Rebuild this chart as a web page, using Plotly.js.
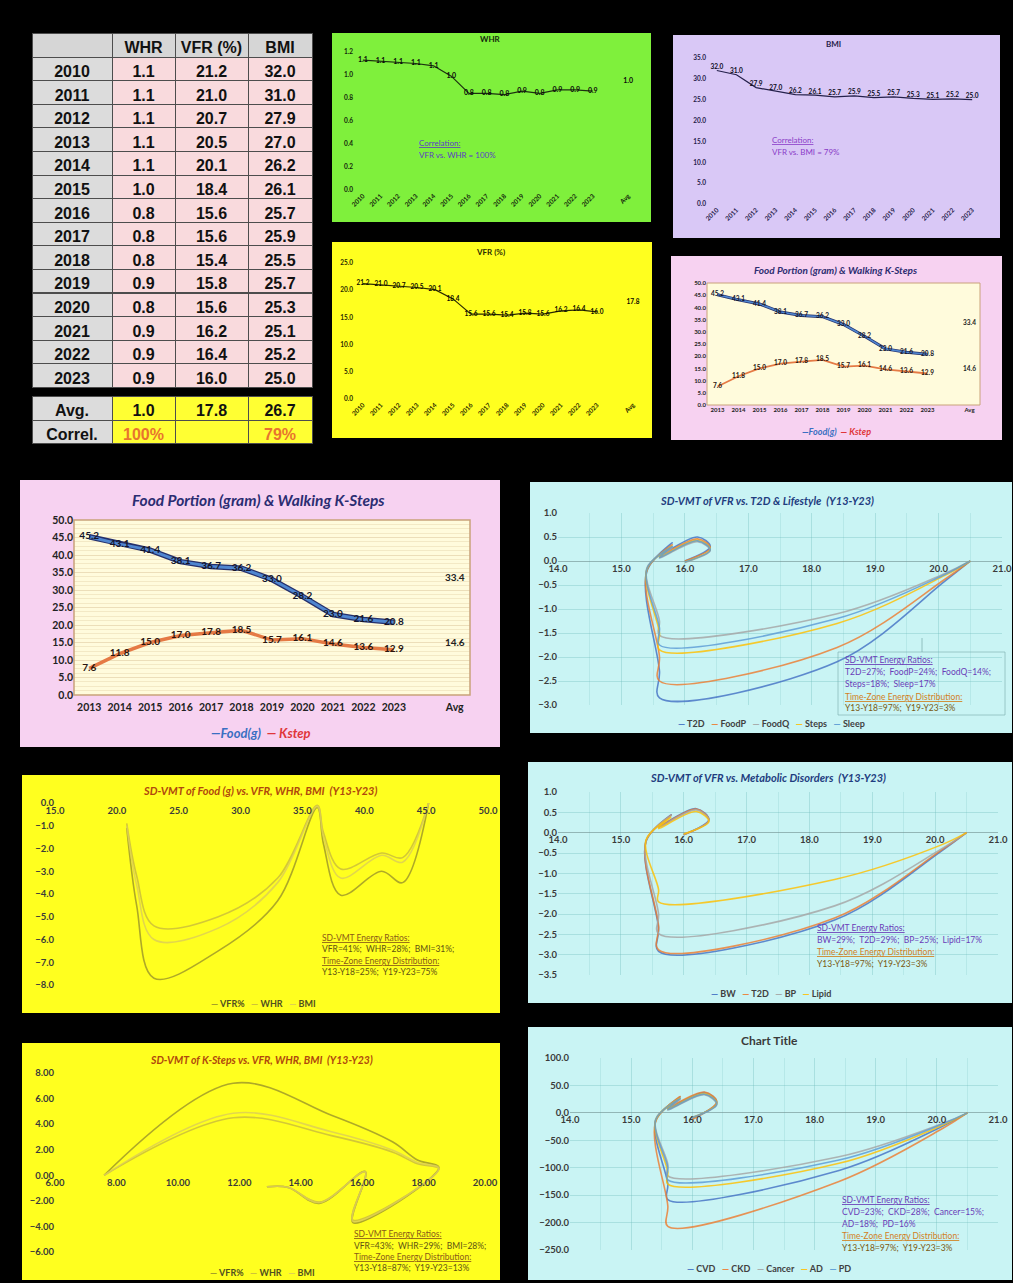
<!DOCTYPE html>
<html>
<head>
<meta charset="utf-8">
<script src="https://cdn.plot.ly/plotly-3.0.1.min.js"></script>
<style>
html,body{margin:0;padding:0;background:#000;overflow:hidden;}
#chart{width:1013px;height:1283px;}
</style>
</head>
<body>
<div id="chart"></div>
<script>
// ================= DATA =================
const years = ['2010','2011','2012','2013','2014','2015','2016','2017','2018','2019','2020','2021','2022','2023'];
const whrTable = [1.1,1.1,1.1,1.1,1.1,1.0,0.8,0.8,0.8,0.9,0.8,0.9,0.9,0.9];
const vfrTable = [21.2,21.0,20.7,20.5,20.1,18.4,15.6,15.6,15.4,15.8,15.6,16.2,16.4,16.0];
const bmiTable = [32.0,31.0,27.9,27.0,26.2,26.1,25.7,25.9,25.5,25.7,25.3,25.1,25.2,25.0];
const tableHeader = ['', 'WHR', 'VFR\u00a0(%)', 'BMI'];
const avgRow = ['Avg.', '1.0', '17.8', '26.7'];
const correlRow = ['Correl.', '100%', '', '79%'];

// WHR as plotted
const whrChart = [1.13,1.12,1.11,1.10,1.08,0.99,0.84,0.84,0.83,0.86,0.84,0.87,0.87,0.86];
const whrAvg = 0.95;
const vfrAvg = 17.8;

const foodYears = ['2013','2014','2015','2016','2017','2018','2019','2020','2021','2022','2023'];
const foodG  = [45.2,43.1,41.4,38.1,36.7,36.2,33.0,28.2,23.0,21.6,20.8];
const kSteps = [7.6,11.8,15.0,17.0,17.8,18.5,15.7,16.1,14.6,13.6,12.9];
const foodAvg = 33.4;
const kStepAvg = 14.6;

// SD-VMT x values (Y13..Y23)
const vfrY13 = [20.5,20.1,18.4,15.6,15.6,15.4,15.8,15.6,16.2,16.4,16.0];

// SD-VMT of VFR vs. T2D & Lifestyle
const t2dNames = ['T2D','FoodP','FoodQ','Steps','Sleep'];
const t2d_T2D   = [0,-0.42,-2.10,-2.85,-2.30,-0.22,0.38,0.12,0.50,0.30,0.00];
const t2d_FoodP = [0,-0.38,-1.80,-2.50,-2.00,-0.20,0.34,0.10,0.46,0.27,0.00];
const t2d_FoodQ = [0,-0.26,-1.10,-1.55,-1.25,-0.15,0.28,0.06,0.40,0.22,-0.03];
const t2d_Steps = [0,-0.30,-1.30,-1.85,-1.50,-0.18,0.31,0.08,0.43,0.24,-0.02];
const t2d_Sleep = [0,-0.28,-1.20,-1.75,-1.40,-0.17,0.30,0.07,0.42,0.23,-0.02];

// SD-VMT of Food (g) vs. VFR, WHR, BMI
const fdNames = ['VFR%','WHR','BMI'];
const fd_VFR = [0,-3.5,-3.0,-4.05,-1.8,-0.2,-4.3,-6.5,-7.7,-4.5,-1.1];
const fd_WHR = [0,-2.4,-2.2,-2.9,-1.3,-0.1,-3.3,-5.0,-5.4,-3.2,-0.9];
const fd_BMI = [0,-2.6,-2.3,-3.3,-1.5,-0.15,-3.5,-5.5,-6.0,-3.6,-1.0];

// SD-VMT of VFR vs. Metabolic Disorders
const mdNames = ['BW','T2D','BP','Lipid'];
const md_BW    = [0,-0.45,-2.15,-2.92,-2.35,-0.22,0.44,0.15,0.59,0.32,-0.05];
const md_T2D   = [0,-0.43,-2.10,-2.88,-2.30,-0.21,0.43,0.14,0.58,0.31,-0.05];
const md_BP    = [0,-0.40,-1.80,-2.48,-2.00,-0.20,0.42,0.13,0.56,0.30,-0.04];
const md_Lipid = [0,-0.30,-1.15,-1.70,-1.40,-0.18,0.38,0.10,0.52,0.27,-0.03];

// SD-VMT of K-Steps vs. VFR, WHR, BMI
const ksNames = ['VFR%','WHR','BMI'];
const ks_VFR = [0,7.2,4.7,2.6,1.2,0.6,-3.7,0.3,-2.2,-0.95,-0.9];
const ks_WHR = [0,4.5,3.1,1.8,0.9,0.5,-3.5,0.25,-2.1,-0.95,-0.9];
const ks_BMI = [0,4.85,3.4,1.95,1.0,0.55,-3.6,0.28,-2.15,-0.95,-0.9];

// Chart Title (CVD, CKD, Cancer, AD, PD)
const ctNames = ['CVD','CKD','Cancer','AD','PD'];
const ct_CVD    = [0,-24,-105,-158,-130,-15,29,8,37,19,-10];
const ct_CKD    = [0,-28,-125,-207,-170,-16,30,10,38,20,-12];
const ct_Cancer = [0,-19,-80,-115,-94,-12,25,5,33,15,-8];
const ct_AD     = [0,-22,-92,-130,-108,-14,27,7,35,17,-9];
const ct_PD     = [0,-20,-86,-122,-100,-13,26,6,34,16,-9];

// ================= STYLE / LAYOUT =================
const F = 'Lato, "Noto Sans", sans-serif';
const TF = '"Liberation Sans", Arial, sans-serif';
const W = 1013, H = 1283;
const px = v => v / W;
const py = v => 1 - v / H;
const f1 = v => v.toFixed(1);
const tf = (s, c) => ({family: F, size: s, color: c || '#222', weight: 'bold'});

const excel = ['#4472c4','#ed7d31','#a5a5a5','#ffc000','#5b9bd5'];
const olive = ['#9c962a','#c9bc3c','#dccd58'];

const shapes = [];
function rect(x0, y0, x1, y1, fill, line) {
  shapes.push({type:'rect', xref:'paper', yref:'paper', x0:px(x0), x1:px(x1), y0:py(y1), y1:py(y0),
    fillcolor:fill, line: line || {width:0}, layer:'below'});
}
// panels
rect(332,33,651,222,'#7ff03c');
rect(673,35,1000,238,'#d9c8f6');
rect(332,242,652,438,'#ffff1f');
rect(671,256,1002,440,'#f7d2f1');
rect(20,480,500,747,'#f7d2f1');
rect(530,482,1012,733,'#c9f4f4');
rect(22,775,500,1013,'#ffff1f');
rect(528,762,1012,1003,'#c9f4f4');
rect(22,1043,500,1280,'#ffff1f');
rect(528,1027,1012,1280,'#c9f4f4');
// food plot areas
rect(707,283,980,405,'#fffbdc',{color:'#c9a27a',width:1});
rect(74,520,470,695,'#fffbdc',{color:'#c9a27a',width:1.5});
// energy box in T2D chart
rect(838,652,1005,715,'rgba(0,0,0,0)',{color:'rgba(120,170,170,0.6)',width:1});
shapes.push({type:'line',xref:'paper',yref:'paper',x0:px(922),x1:px(922),y0:py(652),y1:py(638),line:{color:'rgba(120,170,170,0.7)',width:1},layer:'below'});

const layout = {
  width: W, height: H, margin: {l:0, r:0, t:0, b:0},
  paper_bgcolor: '#000', plot_bgcolor: 'rgba(0,0,0,0)',
  showlegend: false, shapes: shapes, annotations: [],
  font: {family: F}
};
const axBase = {showgrid:false, zeroline:false, showline:false, ticks:'', fixedrange:true, automargin:false};
function axisPair(n, x0, x1, y0, y1, xo, yo) {
  const s = n === 1 ? '' : String(n);
  layout['xaxis' + s] = Object.assign({domain:[px(x0), px(x1)], anchor:'y' + s}, axBase, xo);
  layout['yaxis' + s] = Object.assign({domain:[py(y1), py(y0)], anchor:'x' + s}, axBase, yo);
}
function zeroPos(y0, y1, r) {
  const lo = py(y1), hi = py(y0);
  return lo + (0 - r[0]) / (r[1] - r[0]) * (hi - lo);
}
const catAx = (arr, rng, ang, font) => ({type:'category', categoryorder:'array', categoryarray:arr, range:rng, tickangle:ang, tickfont:font});

// mini charts
axisPair(1, 354, 637, 52, 190, catAx([...years,' ','Avg'], [-0.5,15.5], -45, tf(6.5,'#14260c')),
  {range:[0,1.2], dtick:0.2, tickformat:'.1f', tickfont:tf(6.5,'#14260c')});
axisPair(2, 707, 982, 58, 204, catAx(years, [-0.5,13.5], -45, tf(6.5,'#26204a')),
  {range:[0,35], dtick:5, tickformat:'.1f', tickfont:tf(6.5,'#26204a')});
axisPair(3, 354, 642, 263, 399, catAx([...years,' ','Avg'], [-0.5,15.5], -45, tf(6.5,'#2a2a00')),
  {range:[0,25], dtick:5, tickformat:'.1f', tickfont:tf(6.5,'#2a2a00')});
axisPair(4, 707, 980, 283, 405, catAx([...foodYears,' ','Avg'], [-0.5,12.5], 0, tf(6,'#222')),
  {range:[0,50], dtick:5, tickformat:'.1f', tickfont:tf(6,'#222')});
axisPair(5, 74, 470, 520, 695, Object.assign(catAx([...foodYears,' ','Avg'], [-0.5,12.5], 0, tf(10.5,'#222')), {ticklabelstandoff:4}),
  {range:[0,50], dtick:5, tickformat:'.1f', tickfont:tf(10.5,'#222'), showgrid:true, gridcolor:'rgba(200,170,120,0.35)',
   minor:{dtick:1.25, showgrid:true, gridcolor:'rgba(200,170,120,0.22)'}});

// SD-VMT charts
const cyanGrid = {showgrid:true, gridcolor:'rgba(110,185,185,0.35)'};
function sdAxes(n, x0, x1, y0, y1, xr, yr, xd, yd, xf, yf, fs, grid) {
  const xo = Object.assign({range:xr, dtick:xd, tickformat:xf, tickfont:tf(fs,'#3a3a3a'), anchor:'free', position:zeroPos(y0,y1,yr)}, grid ? cyanGrid : {});
  const yo = Object.assign({range:yr, dtick:yd, tickformat:yf, tickfont:tf(fs,'#3a3a3a'), zeroline:grid, zerolinecolor:'rgba(110,140,140,0.6)', zerolinewidth:1}, grid ? cyanGrid : {});
  if (grid) xo.minor = {dtick:xd/2, showgrid:true, gridcolor:'rgba(110,185,185,0.2)'};
  axisPair(n, x0, x1, y0, y1, xo, yo);
}
sdAxes(6, 558, 1002, 513, 705, [14,21], [-3,1], 1, 0.5, '.1f', '.1f', 9.5, true);
sdAxes(7, 55, 488, 803, 985, [15,50], [-8,0], 5, 1, '.1f', '.1f', 9.5, false);
sdAxes(8, 558, 998, 792, 975, [14,21], [-3.5,1], 1, 0.5, '.1f', '.1f', 9.5, true);
sdAxes(9, 55, 485, 1073, 1252, [6,20], [-6,8], 2, 2, '.2f', '.2f', 9.5, false);
sdAxes(10, 570, 998, 1058, 1250, [14,21], [-250,100], 1, 50, '.1f', '.1f', 9.5, true);

// ================= TRACES =================
const traces = [];

// tables
const colW = [80,63,73,64];
const tFont = c => ({family:TF, size:16, color:c || '#111', weight:'bold'});
traces.push({
  type:'table', domain:{x:[px(32),px(312)], y:[py(394),py(33)]}, columnwidth:colW,
  header:{values:tableHeader, height:24, align:'center', fill:{color:'#d6d6d6'},
          line:{color:'#4d4d4d',width:1}, font:tFont()},
  cells:{values:[years, whrTable.map(f1), vfrTable.map(f1), bmiTable.map(f1)],
         height:23.6, align:'center', fill:{color:['#dcdcdc','#f9dadd','#f9dadd','#f9dadd']},
         line:{color:'#4d4d4d',width:1}, font:tFont()}
});
traces.push({
  type:'table', domain:{x:[px(32),px(312)], y:[py(446),py(396)]}, columnwidth:colW,
  header:{values:avgRow, height:24, align:'center', fill:{color:['#dcdcdc','#ffff33','#ffff33','#ffff33']},
          line:{color:'#4d4d4d',width:1}, font:tFont()},
  cells:{values:correlRow.map(v=>[v]), height:23, align:'center', fill:{color:['#dcdcdc','#ffff33','#ffff33','#ffff33']},
         line:{color:'#4d4d4d',width:1}, font:{family:TF,size:16,weight:'bold',color:['#111','#e8742e','#111','#e8742e']}}
});

// mini WHR
traces.push({type:'scatter', xaxis:'x', yaxis:'y', x:years, y:whrChart, mode:'lines+text',
  line:{color:'#1c3010',width:1.2}, text:whrTable.map(f1), textposition:'middle center',
  textfont:tf(7,'#0a0a0a'), cliponaxis:false});
traces.push({type:'scatter', xaxis:'x', yaxis:'y', x:[' ','Avg'], y:[null,whrAvg], mode:'text',
  text:['',avgRow[1]], textposition:'middle center', textfont:tf(7,'#0a0a0a'), cliponaxis:false});
// mini BMI
traces.push({type:'scatter', xaxis:'x2', yaxis:'y2', x:years, y:bmiTable, mode:'lines+text',
  line:{color:'#24204a',width:1.2}, text:bmiTable.map(f1), textposition:'top center',
  textfont:tf(6.5,'#0a0a1a'), cliponaxis:false});
// mini VFR
traces.push({type:'scatter', xaxis:'x3', yaxis:'y3', x:years, y:vfrTable, mode:'lines+text',
  line:{color:'#2a2a00',width:1.2}, text:vfrTable.map(f1), textposition:'middle center',
  textfont:tf(6.5,'#0a0a00'), cliponaxis:false});
traces.push({type:'scatter', xaxis:'x3', yaxis:'y3', x:[' ','Avg'], y:[null,vfrAvg], mode:'text',
  text:['',avgRow[2]], textposition:'middle center', textfont:tf(6.5,'#0a0a00'), cliponaxis:false});

// food charts
function foodTraces(xa, ya, wShadow, wLine, wK, fs) {
  traces.push({type:'scatter', xaxis:xa, yaxis:ya, x:foodYears, y:foodG, mode:'lines', line:{color:'#25306c',width:wShadow}});
  traces.push({type:'scatter', xaxis:xa, yaxis:ya, x:foodYears, y:foodG, mode:'lines', line:{color:'#4f86d0',width:wLine}});
  traces.push({type:'scatter', xaxis:xa, yaxis:ya, x:foodYears, y:kSteps, mode:'lines', line:{color:'#e57a45',width:wK}});
  traces.push({type:'scatter', xaxis:xa, yaxis:ya, x:foodYears, y:foodG, mode:'text', text:foodG.map(f1),
    textposition:'middle center', textfont:tf(fs,'#15152a'), cliponaxis:false});
  traces.push({type:'scatter', xaxis:xa, yaxis:ya, x:foodYears, y:kSteps, mode:'text', text:kSteps.map(f1),
    textposition:'middle center', textfont:tf(fs,'#2a1510'), cliponaxis:false});
  traces.push({type:'scatter', xaxis:xa, yaxis:ya, x:[' ','Avg','Avg'], y:[null,foodAvg,kStepAvg], mode:'text',
    text:['',f1(foodAvg),f1(kStepAvg)], textposition:'middle center', textfont:tf(fs,'#222'), cliponaxis:false});
}
foodTraces('x4','y4',3,1.6,1.8,6.5);
foodTraces('x5','y5',5.5,3,3.5,10);

// SD-VMT curves
function sdTraces(n, xs, series, colors) {
  const s = String(n);
  series.forEach((ys, i) => {
    traces.push({type:'scatter', xaxis:'x'+s, yaxis:'y'+s, x:xs, y:ys, mode:'lines',
      line:{color:colors[i], width:1.6, shape:'spline', smoothing:1}, opacity:0.82});
  });
}
sdTraces(6, vfrY13, [t2d_T2D,t2d_FoodP,t2d_FoodQ,t2d_Steps,t2d_Sleep], excel);
sdTraces(7, foodG, [fd_VFR,fd_WHR,fd_BMI], olive);
sdTraces(8, vfrY13, [md_BW,md_T2D,md_BP,md_Lipid], excel);
sdTraces(9, kSteps, [ks_VFR,ks_WHR,ks_BMI], olive);
sdTraces(10, vfrY13, [ct_CVD,ct_CKD,ct_Cancer,ct_AD,ct_PD], excel);

// ================= ANNOTATIONS =================
const A = layout.annotations;
function ann(x, y, text, size, color, o, fo) {
  A.push(Object.assign({xref:'paper', yref:'paper', x:px(x), y:py(y), text:text, showarrow:false,
    xanchor:'center', yanchor:'middle', font:Object.assign({family:F, size:size, color:color}, fo || {})}, o || {}));
}
const BI = {weight:'bold', style:'italic'};
const BO = {weight:'bold'};
// titles
ann(490, 39, 'WHR', 8, '#14260c', null, BO);
ann(833, 44, 'BMI', 8, '#26204a', null, BO);
ann(490, 252, 'VFR (%)', 8, '#2a2a00', null, BO);
ann(835, 270, 'Food Portion (gram) &amp; Walking K-Steps', 10, '#2d2d70', null, BI);
ann(258, 500, 'Food Portion (gram) &amp; Walking K-Steps', 15.5, '#2b2d72', null, BI);
ann(767, 500, 'SD-VMT of VFR vs. T2D &amp; Lifestyle  (Y13-Y23)', 11, '#1f3d80', null, BI);
ann(260, 790, 'SD-VMT of Food (g) vs. VFR, WHR, BMI  (Y13-Y23)', 11, '#b0480c', null, BI);
ann(768, 777, 'SD-VMT of VFR vs. Metabolic Disorders  (Y13-Y23)', 11, '#1f3d80', null, BI);
ann(261, 1060, 'SD-VMT of K-Steps vs. VFR, WHR, BMI  (Y13-Y23)', 10.5, '#b0480c', null, BI);
ann(769, 1040, 'Chart Title', 12, '#3a3a3a', null, BO);

// correlation notes
ann(417, 143, '<u>Correlation:</u>', 8, '#5b3cc4', {xanchor:'left'});
ann(417, 155, 'VFR vs. WHR = 100%', 8, '#5b3cc4', {xanchor:'left'});
ann(770, 140, '<u>Correlation:</u>', 8, '#8a3cc8', {xanchor:'left'});
ann(770, 152, 'VFR vs. BMI = 79%', 8, '#8a3cc8', {xanchor:'left'});

// legends
function legendHtml(names, colors) {
  return names.map((n,i) => '<span style="color:' + colors[i] + '">—</span> ' + n).join('&nbsp;&nbsp;&nbsp;');
}
ann(261, 733, '<span style="color:#3a6fc2">—Food(g)</span>&nbsp;&nbsp;<span style="color:#e0363a">— Kstep</span>', 13, '#000', null, BI);
ann(836, 432, '<span style="color:#3a6fc2">—Food(g)</span>&nbsp;&nbsp;<span style="color:#e0363a">— Kstep</span>', 9, '#000', null, BI);
ann(771, 723, legendHtml(t2dNames, excel), 9, '#404040', null, BO);
ann(263, 1003, legendHtml(fdNames, olive), 9, '#505020', null, BO);
ann(771, 993, legendHtml(mdNames, excel), 9, '#404040', null, BO);
ann(262, 1272, legendHtml(ksNames, olive), 9, '#505020', null, BO);
ann(769, 1268, legendHtml(ctNames, excel), 9, '#404040', null, BO);

// energy ratio notes
function note(x, ys, lines) {
  lines.forEach((l, i) => ann(x, ys[i], l[0], 8.5, l[1], {xanchor:'left'}));
}
const pur = '#6a3cb8', org = '#d2801e', brn = '#7a5a12';
note(843, [660,672,684,697,708], [
  ['<u>SD-VMT Energy Ratios:</u>', pur],
  ['T2D=27%;  FoodP=24%;  FoodQ=14%;', pur],
  ['Steps=18%;  Sleep=17%', pur],
  ['<u>Time-Zone Energy Distribution:</u>', org],
  ['Y13-Y18=97%;  Y19-Y23=3%', brn]]);
note(815, [928,940,952,964], [
  ['<u>SD-VMT Energy Ratios:</u>', pur],
  ['BW=29%;  T2D=29%;  BP=25%;  Lipid=17%', pur],
  ['<u>Time-Zone Energy Distribution:</u>', org],
  ['Y13-Y18=97%;  Y19-Y23=3%', brn]]);
note(840, [1200,1212,1224,1236,1248], [
  ['<u>SD-VMT Energy Ratios:</u>', pur],
  ['CVD=23%;  CKD=28%;  Cancer=15%;', pur],
  ['AD=18%;  PD=16%', pur],
  ['<u>Time-Zone Energy Distribution:</u>', org],
  ['Y13-Y18=97%;  Y19-Y23=3%', brn]]);
const yb = '#8a5a18', yt = '#5e5212';
note(320, [938,949,961,972], [
  ['<u>SD-VMT Energy Ratios:</u>', yb],
  ['VFR=41%;  WHR=28%;  BMI=31%;', yt],
  ['<u>Time-Zone Energy Distribution:</u>', yb],
  ['Y13-Y18=25%;  Y19-Y23=75%', yt]]);
note(352, [1234,1246,1257,1268], [
  ['<u>SD-VMT Energy Ratios:</u>', yb],
  ['VFR=43%;  WHR=29%;  BMI=28%;', yt],
  ['<u>Time-Zone Energy Distribution:</u>', yb],
  ['Y13-Y18=87%;  Y19-Y23=13%', yt]]);

Plotly.newPlot('chart', traces, layout, {staticPlot:true, displayModeBar:false});
</script>
</body>
</html>
